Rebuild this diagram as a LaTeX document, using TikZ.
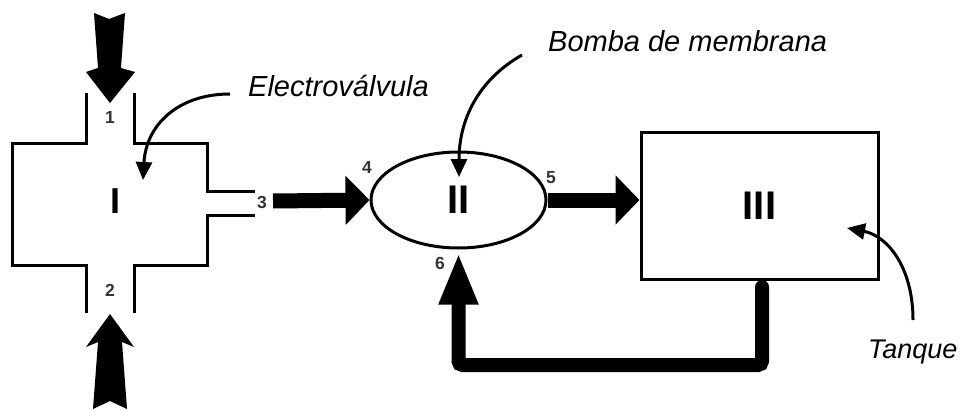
\documentclass[tikz,border=0pt]{standalone}
\usepackage{fontspec}
\setmainfont{Liberation Sans}
\usetikzlibrary{arrows.meta,shapes.geometric}
\begin{document}
\begin{tikzpicture}[x=1pt,y=-1pt,
  thinline/.style={line width=3pt, line join=miter},
  num/.style={font=\fontsize{17.5}{17.5}\selectfont\bfseries, text=black!80, inner sep=0},
  roman/.style={font=\fontsize{40}{40}\selectfont\bfseries, inner sep=0},
  lbl/.style={font=\fontsize{29}{29}\selectfont\itshape, inner sep=0, anchor=base west},
  callout/.style={line width=3pt, -{Triangle[length=18pt,width=16pt]}},
  bigflow/.style={line width=15pt, -{Triangle[length=24pt,width=48pt]}}]
\useasboundingbox (0,0) rectangle (965,409);

% valve body (I)
\draw[thinline] (86,93) -- (86,143) -- (12,143) -- (12,265) -- (86,265) -- (86,313);
\draw[thinline] (134,93) -- (134,143) -- (207,143) -- (207,191) -- (255,191);
\draw[thinline] (255,215) -- (207,215) -- (207,265) -- (134,265) -- (134,313);
\node[font=\fontsize{36}{36}\selectfont\bfseries, inner sep=0] (valve) at (115,201) {I};
\node[num] (n1) at (110,117) {1};
\node[num] (n2) at (110,290) {2};
\node[num] (n3) at (262,202) {3};

% inlet arrows
\fill (94,13) -- (109,19) -- (125,13) -- (121,68) -- (135,72) -- (110,103) -- (86,72) -- (98,68) -- cycle;
\fill (110,314) -- (134,347) -- (122,342) -- (127,409) -- (110,401) -- (93,409) -- (98,342) -- (86,347) -- cycle;

% pump (II)
\node[draw, ellipse, line width=3pt, minimum width=175pt, minimum height=96pt, inner sep=0, roman] (pump) at (458.5,200) {II};
\node[num] (n4) at (367,167) {4};
\node[num] (n5) at (551,178) {5};
\node[num] (n6) at (440,263) {6};

% tank (III)
\node[draw, rectangle, line width=3pt, minimum width=237pt, minimum height=147pt, inner sep=0, roman] (tank) at (759.5,205.5) {III};

% flows
\coordinate (vout) at (273,201);
\draw[bigflow] (vout) -- (pump.west);
\draw[bigflow] (pump.east) -- (pump.east -| tank.west);
\coordinate (fbstart) at (762,287);
\draw[line width=14pt, line cap=round, rounded corners=4pt, -{Triangle[length=52pt,width=36pt]}]
  (fbstart) -- (762,365) -| ([yshift=-3pt]pump.south);

% labels and callouts
\node[lbl] (evlbl) at (248,97) {Electroválvula};
\node[lbl] (bmlbl) at (548,52) {Bomba de membrana};
\node[lbl, font=\fontsize{27}{27}\selectfont\itshape] (tqlbl) at (868,358) {Tanque};
\coordinate (evs) at (230,94);
\coordinate (bms) at (522,55);
\coordinate (tqs) at (913,320);
\draw[callout] (evs) .. controls (178,94) and (146,125) .. (143,180);
\draw[callout] (bms) .. controls (478,80) and (459,120) .. (459,177);
\draw[callout] (tqs) .. controls (913,268) and (888,236) .. (847,228);
\end{tikzpicture}
\end{document}
